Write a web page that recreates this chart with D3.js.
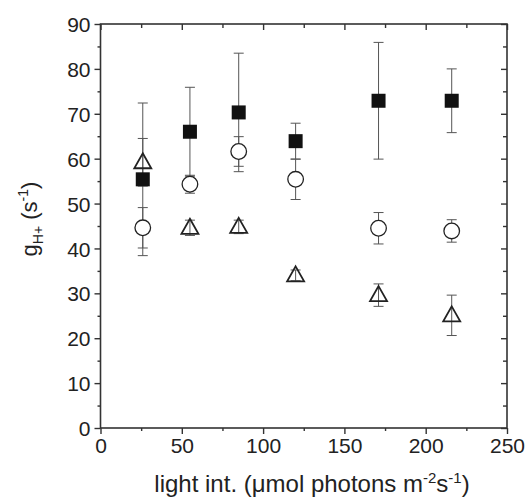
<!DOCTYPE html>
<html><head><meta charset="utf-8">
<script src="https://cdn.jsdelivr.net/npm/d3@7"></script>
<style>body{margin:0;background:#fff}svg{display:block}text{font-family:"Liberation Sans",Arial,sans-serif;fill:#222}</style>
</head><body>
<svg id="c" width="527" height="497"></svg>
<script>
const xValues = [26, 55, 85, 120, 171, 216];
const squareY = [55.4, 66.0, 70.3, 63.9, 72.9, 72.9];
const squareErr = [17.0, 9.9, 13.2, 4.0, 13.0, 7.1];
const circleY = [44.6, 54.3, 61.6, 55.4, 44.5, 43.9];
const circleErr = [4.5, 2.0, 3.3, 4.5, 3.5, 2.5];
const triangleY = [59.2, 44.6, 44.8, 34.0, 29.6, 25.1];
const triangleErr = [5.3, 1.7, 1.5, 1.2, 2.5, 4.5];
const xTicks = [0, 50, 100, 150, 200, 250];
const yTicks = [0, 10, 20, 30, 40, 50, 60, 70, 80, 90];

const svg = d3.select("#c");
const L = 100.5, R = 507, T = 24, B = 428;
const x = d3.scaleLinear().domain([0, 250]).range([L, R]);
const y = d3.scaleLinear().domain([0, 90]).range([B, T]);
const axisCol = "#333";
const FONT = '"Liberation Sans",Arial,sans-serif';

const xMinor = d3.range(25, 250, 50);
const yMinor = d3.range(5, 90, 10);

const gB = svg.append("g").attr("transform", `translate(0,${B})`)
  .call(d3.axisBottom(x).tickValues(xTicks).tickSize(6).tickSizeOuter(0).tickPadding(4));
const gL = svg.append("g").attr("transform", `translate(${L},0)`)
  .call(d3.axisLeft(y).tickValues(yTicks).tickSize(6).tickSizeOuter(0).tickPadding(4));
const gT = svg.append("g").attr("transform", `translate(0,${T})`)
  .call(d3.axisBottom(x).tickValues(xTicks).tickSize(6).tickSizeOuter(0).tickFormat(""));
const gR = svg.append("g").attr("transform", `translate(${R},0)`)
  .call(d3.axisLeft(y).tickValues(yTicks).tickSize(6).tickSizeOuter(0).tickFormat(""));
const gBm = svg.append("g").attr("transform", `translate(0,${B})`)
  .call(d3.axisBottom(x).tickValues(xMinor).tickSize(3).tickSizeOuter(0).tickFormat(""));
const gLm = svg.append("g").attr("transform", `translate(${L},0)`)
  .call(d3.axisLeft(y).tickValues(yMinor).tickSize(3).tickSizeOuter(0).tickFormat(""));
const gTm = svg.append("g").attr("transform", `translate(0,${T})`)
  .call(d3.axisBottom(x).tickValues(xMinor).tickSize(4).tickSizeOuter(0).tickFormat(""));
const gRm = svg.append("g").attr("transform", `translate(${R},0)`)
  .call(d3.axisLeft(y).tickValues(yMinor).tickSize(4).tickSizeOuter(0).tickFormat(""));
[gB, gL, gT, gR, gBm, gLm, gTm, gRm].forEach(g => {
  g.selectAll("path").remove();
  g.selectAll("line").attr("stroke", axisCol).attr("stroke-width", 1.4);
  g.selectAll("text").attr("font-size", 21).attr("fill", "#1a1a1a").style("font-family", FONT);
});
gL.selectAll("text").attr("dy", "0.36em");
gB.selectAll("text").attr("dy", "0.72em");
svg.append("rect").attr("x", L).attr("y", T).attr("width", R - L).attr("height", B - T)
  .attr("fill", "none").attr("stroke", axisCol).attr("stroke-width", 1.6);

function errBars(ys, es) {
  const g = svg.append("g").attr("stroke", "#555").attr("stroke-width", 1);
  xValues.forEach((xv, i) => {
    const cx = x(xv), y1 = y(ys[i] + es[i]), y2 = y(ys[i] - es[i]);
    g.append("line").attr("x1", cx).attr("x2", cx).attr("y1", y1).attr("y2", y2);
    g.append("line").attr("x1", cx - 5).attr("x2", cx + 5).attr("y1", y1).attr("y2", y1);
    g.append("line").attr("x1", cx - 5).attr("x2", cx + 5).attr("y1", y2).attr("y2", y2);
  });
}
errBars(squareY, squareErr);
errBars(circleY, circleErr);
errBars(triangleY, triangleErr);

svg.append("g").selectAll("circle").data(xValues).join("circle")
  .attr("cx", d => x(d)).attr("cy", (d, i) => y(circleY[i])).attr("r", 7.8)
  .attr("fill", "#fff").attr("stroke", "#222").attr("stroke-width", 1.3);
svg.append("g").selectAll("path").data(xValues).join("path")
  .attr("d", (d, i) => {
    const cx = x(d), cy = y(triangleY[i]);
    return `M${cx},${cy - 9}L${cx + 8.5},${cy + 6}L${cx - 8.5},${cy + 6}Z`;
  })
  .attr("fill", "none").attr("stroke", "#222").attr("stroke-width", 1.8);
svg.append("g").selectAll("rect").data(xValues).join("rect")
  .attr("x", d => x(d) - 7).attr("y", (d, i) => y(squareY[i]) - 7)
  .attr("width", 14).attr("height", 14).attr("fill", "#111");

const xt = svg.append("text").attr("x", 312).attr("y", 492)
  .attr("text-anchor", "middle").attr("font-size", 24);
xt.append("tspan").text("light int. (\u03bcmol photons m");
xt.append("tspan").attr("dy", -9).attr("font-size", 15).text("-2");
xt.append("tspan").attr("dy", 9).text("s");
xt.append("tspan").attr("dy", -9).attr("font-size", 15).text("-1");
xt.append("tspan").attr("dy", 9).text(")");

const yt = svg.append("text").attr("transform", `translate(37,219) rotate(-90)`)
  .attr("text-anchor", "middle").attr("font-size", 22);
yt.append("tspan").text("g");
yt.append("tspan").attr("dy", 6).attr("font-size", 14).text("H+");
yt.append("tspan").attr("dy", -6).text(" (s");
yt.append("tspan").attr("dy", -9).attr("font-size", 14).text("-1");
yt.append("tspan").attr("dy", 9).text(")");
</script>
</body></html>
